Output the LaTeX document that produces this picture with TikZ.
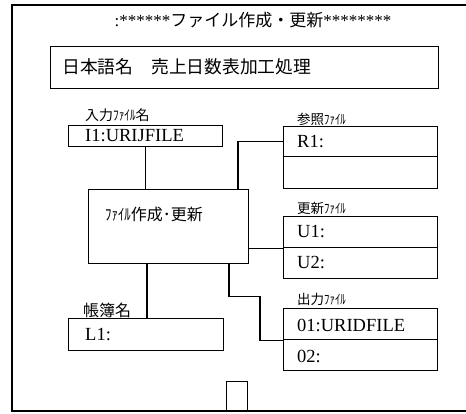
\documentclass[tikz,border=0pt]{standalone}
\usepackage{fontspec}
\setmainfont{Liberation Serif}
\newfontfamily\jp{Noto Sans CJK JP}
\begin{document}
\begin{tikzpicture}[x=1pt,y=-1pt,
  box/.style={draw,line width=1.4pt,inner sep=0pt,anchor=north west},
  conn/.style={line width=1.3pt},
  lbl/.style={anchor=west,inner sep=0pt},
  lat/.style={font=\fontsize{18.5}{18.5}\selectfont},
  jl/.style={font=\fontsize{14}{14}\jp}]
\useasboundingbox (0,0) rectangle (466,413);
% frame
\draw[line width=1.4pt] (466,5) -- (12,5) -- (12,411) -- (466,411);
% title
\node[inner sep=0pt] (title) at (253,20) {\fontsize{17}{17}\selectfont :******{\jp ファイル作成・更新}********};
% boxes
\node[box,minimum width=388pt,minimum height=42pt] (name) at (50,46) {};
\node[lbl,font=\fontsize{17.8}{17.8}\jp] (namet) at (62,67) {日本語名　売上日数表加工処理};
\node[box,minimum width=154pt,minimum height=21pt] (I1) at (68,125) {};
\node[box,minimum width=160pt,minimum height=74pt] (proc) at (88,189) {};
\node[box,minimum width=154pt,minimum height=30pt] (R1) at (283,126) {};
\node[box,minimum width=154pt,minimum height=32pt] (R2) at (283,156) {};
\node[box,minimum width=154pt,minimum height=31pt] (U1) at (283,216) {};
\node[box,minimum width=154pt,minimum height=31pt] (U2) at (283,247) {};
\node[box,minimum width=154pt,minimum height=31pt] (O1) at (283,308) {};
\node[box,minimum width=154pt,minimum height=31pt] (O2) at (283,339) {};
\node[box,minimum width=155pt,minimum height=32pt] (L1) at (68,318) {};
\node[box,minimum width=21pt,minimum height=30pt] (stub) at (226,381) {};
% labels
\node[lbl,jl] (lI) at (85,115) {入力\scalebox{0.8}[1]{ﾌｧｲﾙ}名};
\node[lbl,jl,font=\fontsize{13.5}{13.5}\jp] (lR) at (297,119) {参照\scalebox{0.8}[1]{ﾌｧｲﾙ}};
\node[lbl,jl,font=\fontsize{13.5}{13.5}\jp] (lU) at (297,208) {更新\scalebox{0.8}[1]{ﾌｧｲﾙ}};
\node[lbl,jl,font=\fontsize{13.5}{13.5}\jp] (lO) at (297,299) {出力\scalebox{0.8}[1]{ﾌｧｲﾙ}};
\node[lbl,font=\fontsize{16}{16}\jp] (lL) at (83,310) {帳簿名};
\node[lbl,font=\fontsize{16}{16}\jp] (lP) at (105,214) {\scalebox{0.8}[1]{ﾌｧｲﾙ}作成･更新};
% texts
\node[lbl,lat] (tI1) at (85,136) {I1:URIJFILE};
\node[lbl,lat] (tR1) at (297,142) {R1:};
\node[lbl,lat] (tU1) at (297,232) {U1:};
\node[lbl,lat] (tU2) at (297,263) {U2:};
\node[lbl,lat] (tO1) at (297,325) {01:URIDFILE};
\node[lbl,lat] (tO2) at (297,356) {02:};
\node[lbl,lat] (tL1) at (85,335) {L1:};
% connectors
\draw[conn] (I1.south) -- (I1.south |- proc.north);
\draw[conn] (proc.north west) ++(150,0) |- (R1.west);
\draw[conn] (proc.east |- U1.south west) -- (U1.south west);
\draw[conn] (proc.south west) ++(59,0) -- ++(0,55);
\draw[conn] (proc.south west) ++(141,0) -- ++(0,32) -- ++(31,0) |- (O1.south west);
\end{tikzpicture}
\end{document}
